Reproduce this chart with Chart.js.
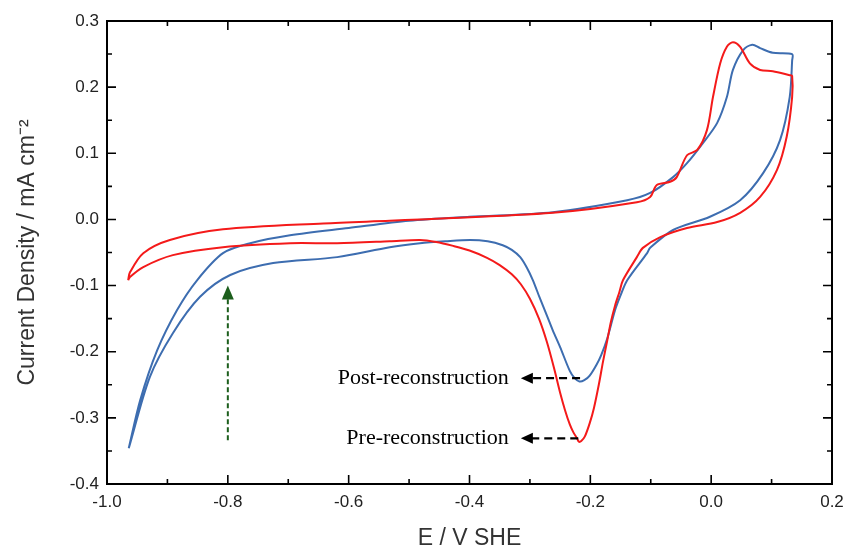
<!DOCTYPE html>
<html>
<head>
<meta charset="utf-8">
<script src="https://cdn.jsdelivr.net/npm/chart.js@4.4.1/dist/chart.umd.min.js"></script>
<style>
  html, body { margin: 0; padding: 0; background: #fff; }
  #wrap { width: 846px; height: 552px; }
</style>
</head>
<body>
<div id="wrap"><canvas id="cvChart" width="846" height="552"></canvas></div>
<script>
'use strict';

// Pre-reconstruction (red) loop: anodic branch then cathodic branch
var redE = [-0.965, -0.962, -0.940, -0.896, -0.808, -0.642, -0.532, -0.482, -0.262, -0.123,
  -0.101, -0.090, -0.068, -0.057, -0.040, -0.023, -0.007, 0.003, 0.015, 0.026,
  0.036, 0.048, 0.064, 0.081, 0.102, 0.130, 0.134,
  0.134, 0.125, 0.109, 0.081, 0.048, 0.010, -0.040, -0.085, -0.113, -0.123,
  -0.146, -0.152, -0.159, -0.166, -0.172, -0.179, -0.186, -0.194, -0.201, -0.209,
  -0.215, -0.219, -0.222, -0.228, -0.234, -0.242, -0.250, -0.260, -0.272, -0.285,
  -0.300, -0.315, -0.330, -0.350, -0.371, -0.400, -0.427, -0.455, -0.482, -0.532,
  -0.619, -0.697, -0.808, -0.891, -0.940, -0.962, -0.965];
var redJ = [-0.092, -0.080, -0.051, -0.031, -0.015, -0.006, -0.002, 0.000, 0.010, 0.026,
  0.034, 0.052, 0.057, 0.064, 0.097, 0.105, 0.135, 0.185, 0.236, 0.261,
  0.268, 0.261, 0.236, 0.226, 0.224, 0.218, 0.217,
  0.185, 0.125, 0.075, 0.034, 0.010, -0.004, -0.013, -0.027, -0.043, -0.057,
  -0.092, -0.110, -0.130, -0.155, -0.183, -0.215, -0.250, -0.285, -0.308, -0.328,
  -0.335, -0.336, -0.331, -0.322, -0.310, -0.288, -0.262, -0.225, -0.185, -0.150,
  -0.120, -0.098, -0.083, -0.069, -0.058, -0.047, -0.040, -0.034, -0.031, -0.033,
  -0.036, -0.036, -0.042, -0.054, -0.072, -0.087, -0.092];

// Post-reconstruction (blue) loop
var blueE = [-0.964, -0.945, -0.917, -0.884, -0.851, -0.808, -0.763, -0.697, -0.600, -0.500,
  -0.400, -0.262, -0.139, -0.101, -0.063, -0.040, -0.014, 0.010, 0.026, 0.036,
  0.053, 0.068, 0.081, 0.102, 0.134,
  0.134, 0.130, 0.114, 0.086, 0.048, -0.002, -0.063, -0.101, -0.106, -0.139,
  -0.150, -0.159, -0.172, -0.182, -0.190, -0.201, -0.210, -0.218, -0.226, -0.234,
  -0.250, -0.262, -0.272, -0.284, -0.295, -0.305, -0.316, -0.330, -0.345, -0.370,
  -0.399, -0.440, -0.482, -0.532, -0.619, -0.725, -0.796, -0.846, -0.891, -0.929,
  -0.964];
var blueJ = [-0.346, -0.273, -0.198, -0.137, -0.092, -0.051, -0.036, -0.024, -0.013, -0.002,
  0.004, 0.011, 0.029, 0.040, 0.064, 0.085, 0.115, 0.146, 0.185, 0.226,
  0.256, 0.264, 0.259, 0.252, 0.250,
  0.240, 0.185, 0.120, 0.070, 0.029, 0.004, -0.016, -0.043, -0.051, -0.092,
  -0.115, -0.137, -0.180, -0.205, -0.220, -0.236, -0.243, -0.245, -0.240, -0.229,
  -0.193, -0.168, -0.145, -0.118, -0.092, -0.073, -0.057, -0.046, -0.039, -0.033,
  -0.031, -0.033, -0.036, -0.042, -0.057, -0.066, -0.084, -0.117, -0.172, -0.238,
  -0.346];

// axis ranges and tick steps
var xRange = [-1.0, 0.2];
var yRange = [-0.4, 0.3];
var xStep = 0.2;
var yStep = 0.1;

// annotation labels: text, arrow tip and tail in data units
var notes = [
  { text: 'Post-reconstruction', y: -0.240, tip: -0.315, tail: -0.217 },
  { text: 'Pre-reconstruction', y: -0.331, tip: -0.315, tail: -0.220 }
];
var greenArrow = { x: -0.800, from: -0.334, to: -0.100 };

function pts(xs, ys) {
  return xs.map(function (v, i) { return { x: v, y: ys[i] }; });
}

function fmt(v) {
  if (Math.abs(v) < 1e-9) v = 0;
  return v.toFixed(1);
}

function arrowHead(ctx, x, y, dx, dy, len, half) {
  // dx,dy: unit direction the arrow points to
  ctx.beginPath();
  ctx.moveTo(x, y);
  ctx.lineTo(x - dx * len - dy * half, y - dy * len + dx * half);
  ctx.lineTo(x - dx * len + dy * half, y - dy * len - dx * half);
  ctx.closePath();
  ctx.fill();
}

var decor = {
  id: 'decor',
  afterDatasetsDraw: function (chart) {
    var ctx = chart.ctx, a = chart.chartArea;
    var sx = chart.scales.x, sy = chart.scales.y;
    ctx.save();

    // inward ticks on all four sides
    ctx.strokeStyle = '#000';
    ctx.lineWidth = 1.6;
    ctx.beginPath();
    sx.ticks.forEach(function (t, i) {
      var p = sx.getPixelForValue(t.value);
      ctx.moveTo(p, a.bottom); ctx.lineTo(p, a.bottom - 9);
      ctx.moveTo(p, a.top); ctx.lineTo(p, a.top + 9);
      if (i < sx.ticks.length - 1) {
        var m = sx.getPixelForValue(t.value + xStep / 2);
        ctx.moveTo(m, a.bottom); ctx.lineTo(m, a.bottom - 5);
        ctx.moveTo(m, a.top); ctx.lineTo(m, a.top + 5);
      }
    });
    sy.ticks.forEach(function (t, i) {
      var p = sy.getPixelForValue(t.value);
      ctx.moveTo(a.left, p); ctx.lineTo(a.left + 9, p);
      ctx.moveTo(a.right, p); ctx.lineTo(a.right - 9, p);
      if (i < sy.ticks.length - 1) {
        var m = sy.getPixelForValue(t.value + yStep / 2);
        ctx.moveTo(a.left, m); ctx.lineTo(a.left + 5, m);
        ctx.moveTo(a.right, m); ctx.lineTo(a.right - 5, m);
      }
    });
    ctx.stroke();

    // frame
    ctx.lineWidth = 2;
    ctx.strokeRect(a.left, a.top, a.right - a.left, a.bottom - a.top);

    // black dashed arrows + labels
    ctx.font = '22px "Liberation Serif"';
    ctx.textAlign = 'right';
    ctx.textBaseline = 'middle';
    notes.forEach(function (n) {
      var py = sy.getPixelForValue(n.y);
      var tip = sx.getPixelForValue(n.tip);
      var tail = sx.getPixelForValue(n.tail);
      ctx.fillStyle = '#000';
      ctx.strokeStyle = '#000';
      ctx.lineWidth = 2.2;
      ctx.setLineDash([8, 5]);
      ctx.beginPath();
      ctx.moveTo(tail, py);
      ctx.lineTo(tip + 10, py);
      ctx.stroke();
      ctx.setLineDash([]);
      arrowHead(ctx, tip, py, -1, 0, 12, 5.5);
      ctx.fillText(n.text, tip - 12, py);
    });

    // green dashed arrow
    var gx = sx.getPixelForValue(greenArrow.x);
    var gy0 = sy.getPixelForValue(greenArrow.from);
    var gy1 = sy.getPixelForValue(greenArrow.to);
    ctx.strokeStyle = '#1c5e1c';
    ctx.fillStyle = '#1c5e1c';
    ctx.lineWidth = 2;
    ctx.setLineDash([5, 3]);
    ctx.beginPath();
    ctx.moveTo(gx, gy0);
    ctx.lineTo(gx, gy1 + 12);
    ctx.stroke();
    ctx.setLineDash([]);
    arrowHead(ctx, gx, gy1, 0, -1, 14, 6);

    ctx.restore();
  }
};

var ctx = document.getElementById('cvChart').getContext('2d');
var chart = new Chart(ctx, {
  type: 'scatter',
  data: {
    datasets: [{
      label: 'Pre-reconstruction',
      data: pts(redE, redJ),
      showLine: true,
      borderColor: '#f41a1a',
      borderWidth: 2,
      pointRadius: 0,
      tension: 0.3
    }, {
      label: 'Post-reconstruction',
      data: pts(blueE, blueJ),
      showLine: true,
      borderColor: '#3d6db0',
      borderWidth: 2,
      pointRadius: 0,
      tension: 0.3
    }]
  },
  options: {
    responsive: false,
    animation: false,
    layout: { padding: { top: 21, right: 14, left: 0, bottom: 0 } },
    plugins: {
      legend: { display: false },
      tooltip: { enabled: false }
    },
    scales: {
      x: {
        min: xRange[0], max: xRange[1],
        grid: { display: false, drawTicks: false },
        border: { display: false },
        ticks: {
          stepSize: xStep, padding: 8, color: '#222',
          font: { family: '"Liberation Sans", Arial', size: 17 },
          maxRotation: 0, autoSkip: false,
          callback: fmt
        },
        title: {
          display: true, text: 'E / V SHE', color: '#333',
          font: { family: '"Liberation Sans", Arial', size: 23 },
          padding: { top: 0, bottom: 0 }
        },
        afterFit: function (s) { s.height = 68; s.paddingLeft = 0; s.paddingRight = 0; }
      },
      y: {
        min: yRange[0], max: yRange[1],
        grid: { display: false, drawTicks: false },
        border: { display: false },
        ticks: {
          stepSize: yStep, padding: 8, color: '#222',
          font: { family: '"Liberation Sans", Arial', size: 17 },
          autoSkip: false,
          callback: fmt
        },
        title: {
          display: true, text: 'Current Density / mA cm\u207B\u00B2', color: '#333',
          font: { family: '"Liberation Sans", Arial', size: 23 },
          padding: { top: 14, bottom: 0 }
        },
        afterFit: function (s) { s.width = 107; s.paddingTop = 0; s.paddingBottom = 0; }
      }
    }
  },
  plugins: [decor]
});
</script>
</body>
</html>
